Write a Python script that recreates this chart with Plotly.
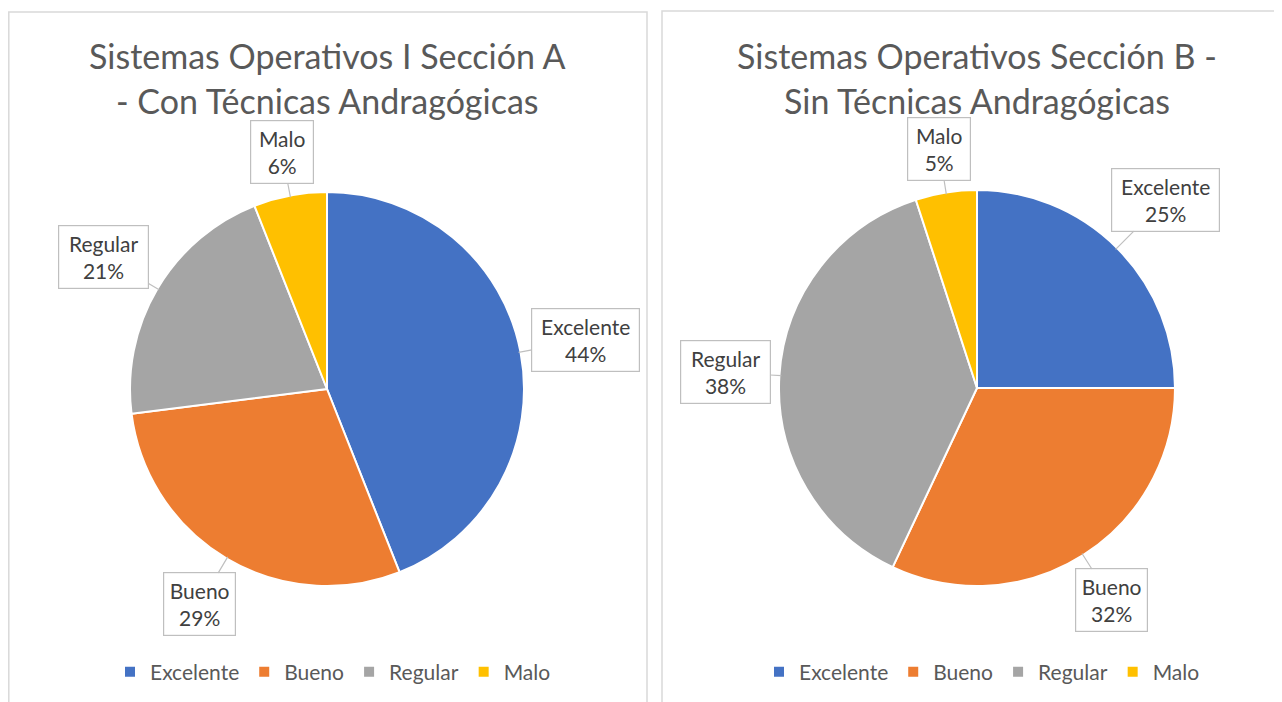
import math
import plotly.graph_objects as go

# ---- data ----
categories = ["Excelente", "Bueno", "Regular", "Malo"]
values_a = [44, 29, 21, 6]
values_b = [25, 32, 38, 5]
title_a = ["Sistemas Operativos I Sección A", "- Con Técnicas Andragógicas"]
title_b = ["Sistemas Operativos Sección B -", "Sin Técnicas Andragógicas"]
colors = ["#4472C4", "#ED7D31", "#A5A5A5", "#FFC000"]

W, H = 1282, 702
OFF = 8  # page body margin offset
FONT = "Lato"
TITLE_C = "#595959"
LABEL_C = "#404040"
BORDER_C = "#d9d9d9"


def px(x):
    return (x - OFF) / W


def py(y):
    return 1 - (y - OFF) / H


# panel / pie geometry in page pixels
panels = [
    dict(x0=8.8, x1=647, y0=12, cx=327, cy=389, r=197, legx=333,
         values=values_a, title=title_a, legend="legend", group="a"),
    dict(x0=662, x1=1300, y0=11, cx=977, cy=388, r=198, legx=982,
         values=values_b, title=title_b, legend="legend2", group="b"),
]

fig = go.Figure()
shapes = []
annotations = []

for p in panels:
    cx, cy, r = p["cx"], p["cy"], p["r"]
    fig.add_trace(go.Pie(
        labels=categories,
        values=p["values"],
        sort=False,
        direction="clockwise",
        rotation=0,
        textinfo="none",
        marker=dict(colors=colors, line=dict(color="white", width=2)),
        domain=dict(x=[px(cx - r), px(cx + r)], y=[py(cy + r), py(cy - r)]),
        legend=p["legend"],
        legendgroup=p["group"],
        hoverinfo="label+percent",
    ))
    # panel border
    shapes.append(dict(type="rect", xref="paper", yref="paper",
                       x0=px(p["x0"]), x1=px(p["x1"]),
                       y0=-0.05, y1=py(p["y0"]),
                       line=dict(color=BORDER_C, width=1.5), layer="below"))
    # title lines
    for i, line in enumerate(p["title"]):
        annotations.append(dict(
            text=line, xref="paper", yref="paper",
            x=px(cx), y=py(56 + 45 * i),
            xanchor="center", yanchor="middle", showarrow=False,
            font=dict(family=FONT, size=34, color=TITLE_C)))
    # callout data labels
    total = sum(p["values"])
    cum = 0
    for cat, v in zip(categories, p["values"]):
        mid = (cum + v / 2) / total * 2 * math.pi
        cum += v
        sx, sy = math.sin(mid), -math.cos(mid)
        bw, bh = len(cat) * 9 + 28, 64
        dist = r + 7 + abs(sx) * bw / 2 + abs(sy) * bh / 2
        tipx, tipy = cx + r * 0.99 * sx, cy + r * 0.99 * sy
        lx, ly = cx + dist * sx, cy + dist * sy
        pct = round(v / total * 100)
        annotations.append(dict(
            text=f"{cat}<br>{pct}%", xref="paper", yref="paper",
            x=px(tipx), y=py(tipy),
            ax=lx - tipx, ay=ly - tipy,
            width=bw - 8, height=bh - 8,
            showarrow=True, arrowhead=0, arrowwidth=1.2, arrowcolor="#bfbfbf",
            bordercolor="#bfbfbf", borderwidth=1.2, borderpad=3,
            bgcolor="white", align="center", valign="middle",
            font=dict(family=FONT, size=21, color=LABEL_C)))

legend_style = dict(orientation="h", xanchor="center", yanchor="middle",
                    traceorder="normal",
                    y=py(672), font=dict(family=FONT, size=21, color=TITLE_C),
                    bgcolor="rgba(0,0,0,0)", itemclick=False, itemdoubleclick=False)

fig.update_layout(
    width=W, height=H,
    margin=dict(l=0, r=0, t=0, b=0),
    paper_bgcolor="white",
    showlegend=True,
    legend=dict(x=px(panels[0]["legx"]), **legend_style),
    legend2=dict(x=px(panels[1]["legx"]), **legend_style),
    shapes=shapes,
    annotations=annotations,
)

fig.write_html("out.html")
